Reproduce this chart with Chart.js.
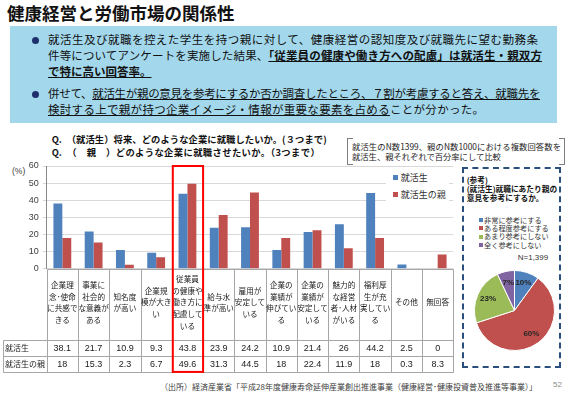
<!DOCTYPE html>
<html lang="ja">
  <head>
    <meta charset="UTF-8" />
    <title>健康経営と労働市場の関係性</title>
    <style>
      html,
      body {
        margin: 0;
        padding: 0;
        width: 567px;
        height: 394px;
        overflow: hidden;
        background: #fff;
        font-family: "Noto Sans CJK JP", sans-serif;
        color: #111;
      }
      .t {
        position: absolute;
        line-height: 1;
        white-space: nowrap;
      }
      .j {
        white-space: normal;
        text-align: justify;
        text-align-last: justify;
      }
      .title {
        left: 7px;
        top: 4px;
        font-size: 17.5px;
        font-weight: bold;
      }
      .box {
        position: absolute;
        left: 10px;
        top: 26px;
        width: 547px;
        height: 97px;
        background: #a3d8ec;
      }
      .box .t {
        font-size: 11.5px;
        left: 38px;
      }
      .dot {
        position: absolute;
        left: 21.5px;
        width: 7px;
        height: 7px;
        border-radius: 50%;
        background: #1f2f6b;
      }
      .u {
        text-decoration: underline;
        text-underline-offset: 1px;
      }
      .b {
        font-weight: bold;
      }
      .q {
        left: 51.7px;
        font-size: 9.3px;
        font-weight: bold;
      }
      .note {
        position: absolute;
        left: 347px;
        top: 138px;
        width: 216px;
        height: 25px;
        border: 1px solid #7f7f7f;
      }
      .note::before {
        content: "";
        position: absolute;
        left: 5px;
        right: 5px;
        top: -1px;
        bottom: -1px;
        border-top: 1px solid #fff;
        border-bottom: 1px solid #fff;
      }
      .note-line {
        left: 352px;
        font-size: 8.3px;
        color: #222;
      }
      .wrap {
        position: absolute;
      }
      .legend {
        position: absolute;
        margin: 0;
        padding: 0;
        list-style: none;
      }
      .legend li {
        position: absolute;
        line-height: 1;
        white-space: nowrap;
      }
      .legend li::before {
        content: "";
        position: absolute;
        background: var(--c);
      }
      .bar-legend {
        left: 386px;
        top: 170px;
        width: 63px;
        height: 33px;
        background: #fff;
        font-size: 9px;
        color: #333;
      }
      .bar-legend li {
        left: 14.7px;
      }
      .bar-legend li::before {
        left: -7.5px;
        top: 2px;
        width: 5px;
        height: 5px;
      }
      .pie-box {
        position: absolute;
        left: 462px;
        top: 167px;
        width: 99px;
        height: 201px;
        box-sizing: border-box;
        border: 2px dashed #2a4f7f;
      }
      .pie-title {
        left: 466.7px;
        font-size: 7.7px;
        font-weight: bold;
      }
      .pie-legend {
        left: 479px;
        top: 216.7px;
        font-size: 7.2px;
        color: #333;
      }
      .pie-legend li {
        left: 5px;
      }
      .pie-legend li::before {
        left: -5px;
        top: 1.5px;
        width: 4px;
        height: 4px;
      }
    </style>
  </head>
  <body>
    <div class="t title">健康経営と労働市場の関係性</div>

    <div class="box">
      <span class="dot" style="top: 10.5px"></span>
      <div class="t j" style="top: 7.7px; width: 490px">就活生及び就職を控えた学生を持つ親に対して、健康経営の認知度及び就職先に望む勤務条</div>
      <div class="t j" style="top: 23.7px; width: 494px">件等についてアンケートを実施した結果、<span class="u b">「従業員の健康や働き方への配慮」は就活生・親双方</span></div>
      <div class="t" style="top: 39.7px"><span class="u b">で特に高い回答率。</span></div>
      <span class="dot" style="top: 64.5px"></span>
      <div class="t j" style="top: 61.7px; width: 492px; letter-spacing: -0.4px">併せて、<span class="u">就活生が親の意見を参考にするか否か調査したところ、７割が考慮すると答え、就職先を</span></div>
      <div class="t" style="top: 77.7px; letter-spacing: 0.3px"><span class="u">検討する上で親が持つ企業イメージ・情報が重要な要素を占める</span>ことが分かった。</div>
    </div>

    <div class="t j q" style="top: 135.4px; width: 275px">Q.　（就活生）将来、どのような企業に就職したいか。(３つまで)</div>
    <div class="t j q" style="top: 147.9px; width: 268px">Q.　（　親　）どのような企業に就職させたいか。（3つまで）</div>

    <div class="note"></div>
    <div class="t j note-line" style="top: 142.4px; width: 209px">就活生のN数1399、親のN数1000における複数回答数を</div>
    <div class="t note-line" style="top: 152.4px">就活生、親それぞれで百分率にして比較</div>

    <div class="t" style="left: 12px; top: 167.3px; font-size: 8.5px; color: #404040; font-family: 'Liberation Sans', sans-serif">(%)</div>

    <div class="wrap" style="left: 0; top: 156px; width: 460px; height: 220px">
      <canvas id="bar"></canvas>
    </div>
    <ul class="legend bar-legend"></ul>

    <div class="pie-box"></div>
    <div class="t pie-title" style="top: 176.3px">(参考)</div>
    <div class="t pie-title" style="top: 185.3px">(就活生)就職にあたり親の</div>
    <div class="t pie-title" style="top: 194.3px">意見を参考にするか。</div>
    <ul class="legend pie-legend"></ul>
    <div class="t" style="left: 517.7px; top: 253.6px; font-size: 8px; color: #333; font-family: 'Liberation Sans', sans-serif">N=1,399</div>
    <div class="wrap" style="left: 469px; top: 265px; width: 91px; height: 91px">
      <canvas id="pie"></canvas>
    </div>

    <div class="t j" style="left: 160px; top: 382.6px; width: 375px; font-size: 8px; color: #404040">（出所）経済産業省「平成28年度健康寿命延伸産業創出推進事業（健康経営･健康投資普及推進等事業）」</div>
    <div class="t" style="left: 553px; top: 380.6px; font-size: 8px; color: #8c8c8c; font-family: 'Liberation Sans', sans-serif">52</div>

    <script src="https://cdn.jsdelivr.net/npm/chart.js@4.4.1/dist/chart.umd.min.js"></script>
    <script>
      // Category labels, broken into lines the way the table shows them.
      const categories = [
        ["企業理", "念･使命", "に共感で", "きる"],
        ["事業に", "社会的", "な意義が", "ある"],
        ["知名度", "が高い"],
        ["企業規", "模が大き", "い"],
        ["従業員", "の健康や", "働き方に", "配慮して", "いる"],
        ["給与水", "準が高い"],
        ["雇用が", "安定して", "いる"],
        ["企業の", "業績が", "伸びてい", "る"],
        ["企業の", "業績が", "安定して", "いる"],
        ["魅力的", "な経営", "者･人材", "がいる"],
        ["福利厚", "生が充", "実してい", "る"],
        ["その他"],
        ["無回答"],
      ];
      const studentValues = [38.1, 21.7, 10.9, 9.3, 43.8, 23.9, 24.2, 10.9, 21.4, 26, 44.2, 2.5, 0];
      const parentValues = [18, 15.3, 2.3, 6.7, 49.6, 31.3, 44.5, 18, 22.4, 11.9, 18, 0.3, 8.3];
      const seriesNames = ["就活生", "就活生の親"];
      const seriesColors = ["#4f81bd", "#c0504d"];
      const yMax = 60;
      const yStep = 10;
      const highlightIndex = 4;

      const pieLabels = ["非常に参考にする", "ある程度参考にする", "あまり参考にしない", "全く参考にしない"];
      const pieValues = [10, 60, 23, 7];
      const pieColors = ["#4f81bd", "#c0504d", "#9bbb59", "#8064a2"];

      const cjk = "'Noto Sans CJK JP', sans-serif";
      const latin = "'Liberation Sans', sans-serif";

      // Legends as plain list items.
      function fillLegend(list, names, colors, step) {
        names.forEach((name, i) => {
          const item = document.createElement("li");
          item.textContent = name;
          item.style.setProperty("--c", colors[i]);
          item.style.top = step.first + i * step.gap + "px";
          list.appendChild(item);
        });
      }
      fillLegend(document.querySelector(".bar-legend"), seriesNames, seriesColors, { first: 3.4, gap: 16.7 });
      fillLegend(document.querySelector(".pie-legend"), pieLabels, pieColors, { first: 0, gap: 8.3 });

      // Data table under the bars, lined up with the category scale.
      const dataTable = {
        id: "dataTable",
        afterDraw(chart) {
          const { ctx, chartArea: area } = chart;
          const x = chart.scales.x;
          const half = (x.getPixelForValue(1) - x.getPixelForValue(0)) / 2;
          const top = Math.round(area.bottom) + 0.5;
          const labelBottom = top + 70;
          const rowH = 16.2;
          const bottom = labelBottom + rowH * 2;
          const left = 3.5;
          const right = Math.round(area.right) + 0.5;
          const rows = [studentValues, parentValues];

          ctx.save();
          ctx.strokeStyle = "#a6a6a6";
          ctx.lineWidth = 1;
          ctx.beginPath();
          ctx.moveTo(Math.round(area.left) + 0.5, top);
          ctx.lineTo(right, top);
          [labelBottom, labelBottom + rowH, bottom].forEach((yy) => {
            const py = Math.round(yy) + 0.5;
            ctx.moveTo(left, py);
            ctx.lineTo(right, py);
          });
          ctx.moveTo(left, Math.round(labelBottom) + 0.5);
          ctx.lineTo(left, Math.round(bottom) + 0.5);
          for (let i = 0; i <= categories.length; i++) {
            const px = Math.round(x.getPixelForValue(i) - half) + 0.5;
            ctx.moveTo(px, top);
            ctx.lineTo(px, Math.round(bottom) + 0.5);
          }
          ctx.stroke();

          ctx.fillStyle = "#1a1a1a";
          ctx.textAlign = "center";
          ctx.textBaseline = "middle";
          ctx.font = "7.6px " + cjk;
          const lineH = 11.7;
          categories.forEach((lines, i) => {
            const cx = x.getPixelForValue(i);
            const startY = top + 33 - ((lines.length - 1) * lineH) / 2;
            lines.forEach((line, k) => ctx.fillText(line, cx, startY + k * lineH));
          });

          ctx.font = "9px " + latin;
          rows.forEach((values, r) => {
            const cy = labelBottom + rowH * r + rowH / 2 + 0.5;
            values.forEach((v, i) => ctx.fillText(String(v), x.getPixelForValue(i), cy));
          });

          ctx.textAlign = "left";
          ctx.font = "8px " + cjk;
          seriesNames.forEach((name, r) => {
            ctx.fillText(name, 5, labelBottom + rowH * r + rowH / 2 + 0.5);
          });

          // red frame round the highlighted category
          ctx.strokeStyle = "#ff0000";
          ctx.lineWidth = 2;
          const hx = x.getPixelForValue(highlightIndex);
          ctx.strokeRect(hx - half + 1, area.top, half * 2 - 1, bottom - area.top);
          ctx.restore();
        },
      };

      new Chart(document.getElementById("bar"), {
        type: "bar",
        data: {
          labels: categories.map((lines) => lines.join("")),
          datasets: [
            { label: seriesNames[0], data: studentValues, backgroundColor: seriesColors[0] },
            { label: seriesNames[1], data: parentValues, backgroundColor: seriesColors[1] },
          ],
        },
        options: {
          responsive: true,
          maintainAspectRatio: false,
          animation: false,
          layout: { padding: { left: 0, top: 10, right: 6.7, bottom: 107.3 } },
          datasets: { bar: { categoryPercentage: 0.57, barPercentage: 1 } },
          scales: {
            x: { display: false },
            y: {
              min: 0,
              max: yMax,
              afterFit: (scale) => {
                scale.width = 46.7;
              },
              ticks: {
                stepSize: yStep,
                padding: 4,
                color: "#404040",
                font: { family: latin, size: 9 },
              },
              grid: { color: "#d9d9d9", tickLength: 4 },
              border: { color: "#868686" },
            },
          },
          plugins: { legend: { display: false }, tooltip: { enabled: false } },
        },
        plugins: [dataTable],
      });

      // Percent labels on the pie slices.
      const pctLabels = {
        id: "pctLabels",
        afterDatasetsDraw(chart) {
          const { ctx } = chart;
          const meta = chart.getDatasetMeta(0);
          ctx.save();
          ctx.font = "bold 8px " + latin;
          ctx.fillStyle = "#262626";
          ctx.textAlign = "center";
          ctx.textBaseline = "middle";
          meta.data.forEach((arc, i) => {
            const { x, y, startAngle, endAngle, outerRadius } = arc;
            const mid = (startAngle + endAngle) / 2;
            const r = outerRadius * 0.72;
            ctx.fillText(pieValues[i] + "%", x + Math.cos(mid) * r, y + Math.sin(mid) * r);
          });
          ctx.restore();
        },
      };

      new Chart(document.getElementById("pie"), {
        type: "pie",
        data: {
          labels: pieLabels,
          datasets: [{ data: pieValues, backgroundColor: pieColors, borderColor: "#fff", borderWidth: 1 }],
        },
        options: {
          responsive: true,
          maintainAspectRatio: false,
          animation: false,
          layout: { padding: 5 },
          plugins: { legend: { display: false }, tooltip: { enabled: false } },
        },
        plugins: [pctLabels],
      });
    </script>
  </body>
</html>
